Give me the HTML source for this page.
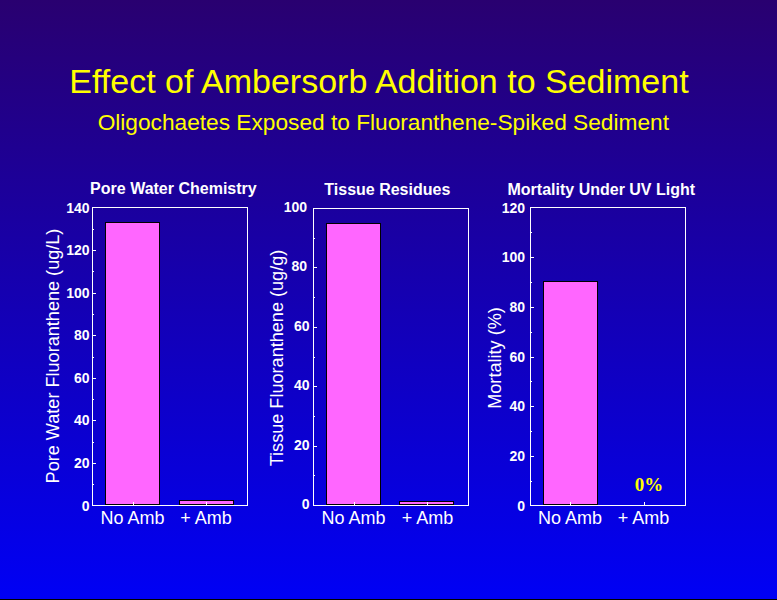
<!DOCTYPE html>
<html><head><meta charset="utf-8">
<style>
html,body{margin:0;padding:0;width:777px;height:600px;overflow:hidden;background:#0000f5;}
svg{display:block;}
text{font-family:"Liberation Sans", sans-serif;}
</style></head><body>
<svg width="777" height="600" viewBox="0 0 777 600">
<defs><linearGradient id="bg" x1="0" y1="0" x2="0" y2="1">
<stop offset="0" stop-color="rgb(41,0,112)"/><stop offset="1" stop-color="rgb(0,0,245)"/>
</linearGradient></defs>
<rect x="0" y="0" width="777" height="599" fill="url(#bg)"/>
<rect x="0" y="599" width="777" height="1" fill="#000"/>
<text x="379" y="92.5" font-size="34" fill="#ffff00" text-anchor="middle">Effect of Ambersorb Addition to Sediment</text>
<text x="383.3" y="130" font-size="22.7" fill="#ffff00" text-anchor="middle">Oligochaetes Exposed to Fluoranthene-Spiked Sediment</text>

<g shape-rendering="crispEdges"><rect x="105.5" y="222.5" width="54" height="282" fill="#ff66ff" stroke="#000" stroke-width="1"/>
<rect x="179.5" y="500.5" width="54" height="4" fill="#ff66ff" stroke="#000" stroke-width="1"/>
<rect x="92.5" y="207.5" width="155" height="298" fill="none" stroke="#fff" stroke-width="1"/>
<text x="89.5" y="511" font-size="14" font-weight="bold" fill="#fff" text-anchor="end">0</text>
<rect x="93" y="484" width="1" height="1" fill="#fff"/>
<rect x="93" y="463" width="3" height="1" fill="#fff"/>
<text x="89.5" y="468" font-size="14" font-weight="bold" fill="#fff" text-anchor="end">20</text>
<rect x="93" y="442" width="1" height="1" fill="#fff"/>
<rect x="93" y="420" width="3" height="1" fill="#fff"/>
<text x="89.5" y="425" font-size="14" font-weight="bold" fill="#fff" text-anchor="end">40</text>
<rect x="93" y="399" width="1" height="1" fill="#fff"/>
<rect x="93" y="378" width="3" height="1" fill="#fff"/>
<text x="89.5" y="383" font-size="14" font-weight="bold" fill="#fff" text-anchor="end">60</text>
<rect x="93" y="357" width="1" height="1" fill="#fff"/>
<rect x="93" y="335" width="3" height="1" fill="#fff"/>
<text x="89.5" y="340" font-size="14" font-weight="bold" fill="#fff" text-anchor="end">80</text>
<rect x="93" y="314" width="1" height="1" fill="#fff"/>
<rect x="93" y="293" width="3" height="1" fill="#fff"/>
<text x="89.5" y="298" font-size="14" font-weight="bold" fill="#fff" text-anchor="end">100</text>
<rect x="93" y="271" width="1" height="1" fill="#fff"/>
<rect x="93" y="250" width="3" height="1" fill="#fff"/>
<text x="89.5" y="255" font-size="14" font-weight="bold" fill="#fff" text-anchor="end">120</text>
<rect x="93" y="229" width="1" height="1" fill="#fff"/>
<text x="89.5" y="213" font-size="14" font-weight="bold" fill="#fff" text-anchor="end">140</text>
<rect x="133" y="502" width="1" height="3" fill="#fff"/>
<text x="132.5" y="524" font-size="18" fill="#fff" text-anchor="middle">No Amb</text>
<rect x="206" y="502" width="1" height="3" fill="#fff"/>
<text x="206" y="524" font-size="18" fill="#fff" text-anchor="middle">+ Amb</text>
<text transform="translate(58.5,356) rotate(-90)" x="0" y="0" font-size="18.1" fill="#fff" text-anchor="middle">Pore Water Fluoranthene (ug/L)</text>
<text x="173.4" y="193.5" font-size="16" font-weight="bold" fill="#fff" text-anchor="middle">Pore Water Chemistry</text></g>
<g shape-rendering="crispEdges"><rect x="326.5" y="223.5" width="54" height="281" fill="#ff66ff" stroke="#000" stroke-width="1"/>
<rect x="399.5" y="501.5" width="54" height="3" fill="#ff66ff" stroke="#000" stroke-width="1"/>
<rect x="313.5" y="208.5" width="155" height="297" fill="none" stroke="#fff" stroke-width="1"/>
<text x="309.5" y="509" font-size="14" font-weight="bold" fill="#fff" text-anchor="end">0</text>
<rect x="314" y="475" width="1" height="1" fill="#fff"/>
<rect x="314" y="446" width="3" height="1" fill="#fff"/>
<text x="309.5" y="450" font-size="14" font-weight="bold" fill="#fff" text-anchor="end">20</text>
<rect x="314" y="416" width="1" height="1" fill="#fff"/>
<rect x="314" y="386" width="3" height="1" fill="#fff"/>
<text x="309.5" y="390" font-size="14" font-weight="bold" fill="#fff" text-anchor="end">40</text>
<rect x="314" y="357" width="1" height="1" fill="#fff"/>
<rect x="314" y="327" width="3" height="1" fill="#fff"/>
<text x="309.5" y="331" font-size="14" font-weight="bold" fill="#fff" text-anchor="end">60</text>
<rect x="314" y="297" width="1" height="1" fill="#fff"/>
<rect x="314" y="267" width="3" height="1" fill="#fff"/>
<text x="307" y="271" font-size="14" font-weight="bold" fill="#fff" text-anchor="end">80</text>
<rect x="314" y="238" width="1" height="1" fill="#fff"/>
<text x="307" y="212" font-size="14" font-weight="bold" fill="#fff" text-anchor="end">100</text>
<rect x="354" y="502" width="1" height="3" fill="#fff"/>
<text x="353.5" y="524" font-size="18" fill="#fff" text-anchor="middle">No Amb</text>
<rect x="427" y="502" width="1" height="3" fill="#fff"/>
<text x="427.5" y="524" font-size="18" fill="#fff" text-anchor="middle">+ Amb</text>
<text transform="translate(282.5,358) rotate(-90)" x="0" y="0" font-size="18.1" fill="#fff" text-anchor="middle">Tissue Fluoranthene (ug/g)</text>
<text x="387.3" y="194.7" font-size="16" font-weight="bold" fill="#fff" text-anchor="middle">Tissue Residues</text></g>
<g shape-rendering="crispEdges"><rect x="543.5" y="281.5" width="54" height="223" fill="#ff66ff" stroke="#000" stroke-width="1"/>
<rect x="530.5" y="207.5" width="155" height="298" fill="none" stroke="#fff" stroke-width="1"/>
<text x="525" y="511" font-size="14" font-weight="bold" fill="#fff" text-anchor="end">0</text>
<rect x="531" y="481" width="1" height="1" fill="#fff"/>
<rect x="531" y="456" width="3" height="1" fill="#fff"/>
<text x="525" y="461" font-size="14" font-weight="bold" fill="#fff" text-anchor="end">20</text>
<rect x="531" y="431" width="1" height="1" fill="#fff"/>
<rect x="531" y="406" width="3" height="1" fill="#fff"/>
<text x="525" y="411" font-size="14" font-weight="bold" fill="#fff" text-anchor="end">40</text>
<rect x="531" y="381" width="1" height="1" fill="#fff"/>
<rect x="531" y="357" width="3" height="1" fill="#fff"/>
<text x="525" y="362" font-size="14" font-weight="bold" fill="#fff" text-anchor="end">60</text>
<rect x="531" y="332" width="1" height="1" fill="#fff"/>
<rect x="531" y="307" width="3" height="1" fill="#fff"/>
<text x="525" y="312" font-size="14" font-weight="bold" fill="#fff" text-anchor="end">80</text>
<rect x="531" y="282" width="1" height="1" fill="#fff"/>
<rect x="531" y="257" width="3" height="1" fill="#fff"/>
<text x="525" y="262" font-size="14" font-weight="bold" fill="#fff" text-anchor="end">100</text>
<rect x="531" y="232" width="1" height="1" fill="#fff"/>
<text x="525" y="213" font-size="14" font-weight="bold" fill="#fff" text-anchor="end">120</text>
<rect x="570" y="502" width="1" height="3" fill="#fff"/>
<text x="570" y="524" font-size="18" fill="#fff" text-anchor="middle">No Amb</text>
<rect x="644" y="502" width="1" height="3" fill="#fff"/>
<text x="643.5" y="524" font-size="18" fill="#fff" text-anchor="middle">+ Amb</text>
<text transform="translate(501,358) rotate(-90)" x="0" y="0" font-size="18.1" fill="#fff" text-anchor="middle">Mortality (%)</text>
<text x="601.3" y="195" font-size="16" font-weight="bold" fill="#fff" text-anchor="middle">Mortality Under UV Light</text></g>
<text x="649" y="491" font-size="19" font-weight="bold" fill="#ffff00" text-anchor="middle" style="font-family:'Liberation Serif', serif">0%</text>
</svg></body></html>
